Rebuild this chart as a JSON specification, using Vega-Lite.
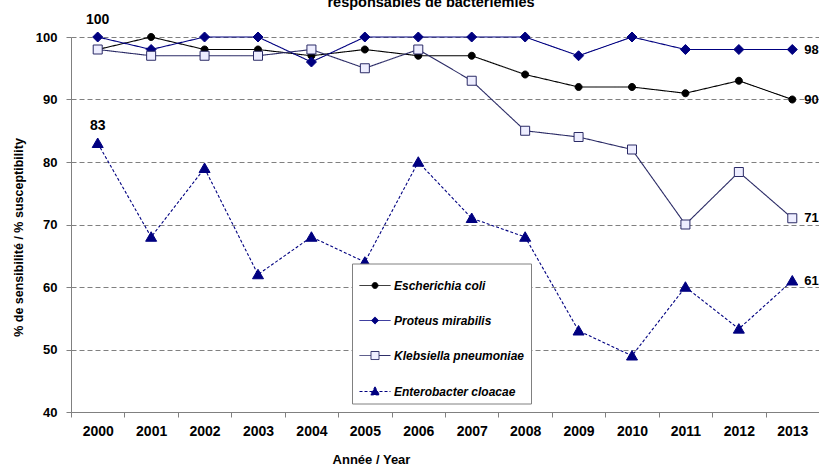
{
  "$schema": "https://vega.github.io/schema/vega-lite/v6.json",
  "width": 748,
  "height": 375,
  "autosize": "none",
  "padding": {"left": 71, "top": 37, "right": 0, "bottom": 53},
  "background": "white",
  "config": {
    "font": "Liberation Sans",
    "view": {"stroke": null}
  },
  "title": {
    "text": "responsables de bactériémies",
    "fontSize": 14.5,
    "fontWeight": "bold",
    "color": "black",
    "anchor": "middle",
    "frame": "group",
    "baseline": "alphabetic",
    "offset": -8,
    "dx": -14
  },
  "data": {
    "values": [
      {"year": 2000, "species": "Escherichia coli", "pct": 98},
      {"year": 2001, "species": "Escherichia coli", "pct": 100},
      {"year": 2002, "species": "Escherichia coli", "pct": 98},
      {"year": 2003, "species": "Escherichia coli", "pct": 98},
      {"year": 2004, "species": "Escherichia coli", "pct": 97},
      {"year": 2005, "species": "Escherichia coli", "pct": 98},
      {"year": 2006, "species": "Escherichia coli", "pct": 97},
      {"year": 2007, "species": "Escherichia coli", "pct": 97},
      {"year": 2008, "species": "Escherichia coli", "pct": 94},
      {"year": 2009, "species": "Escherichia coli", "pct": 92},
      {"year": 2010, "species": "Escherichia coli", "pct": 92},
      {"year": 2011, "species": "Escherichia coli", "pct": 91},
      {"year": 2012, "species": "Escherichia coli", "pct": 93},
      {"year": 2013, "species": "Escherichia coli", "pct": 90},
      {"year": 2000, "species": "Proteus mirabilis", "pct": 100},
      {"year": 2001, "species": "Proteus mirabilis", "pct": 98},
      {"year": 2002, "species": "Proteus mirabilis", "pct": 100},
      {"year": 2003, "species": "Proteus mirabilis", "pct": 100},
      {"year": 2004, "species": "Proteus mirabilis", "pct": 96},
      {"year": 2005, "species": "Proteus mirabilis", "pct": 100},
      {"year": 2006, "species": "Proteus mirabilis", "pct": 100},
      {"year": 2007, "species": "Proteus mirabilis", "pct": 100},
      {"year": 2008, "species": "Proteus mirabilis", "pct": 100},
      {"year": 2009, "species": "Proteus mirabilis", "pct": 97},
      {"year": 2010, "species": "Proteus mirabilis", "pct": 100},
      {"year": 2011, "species": "Proteus mirabilis", "pct": 98},
      {"year": 2012, "species": "Proteus mirabilis", "pct": 98},
      {"year": 2013, "species": "Proteus mirabilis", "pct": 98},
      {"year": 2000, "species": "Klebsiella pneumoniae", "pct": 98},
      {"year": 2001, "species": "Klebsiella pneumoniae", "pct": 97},
      {"year": 2002, "species": "Klebsiella pneumoniae", "pct": 97},
      {"year": 2003, "species": "Klebsiella pneumoniae", "pct": 97},
      {"year": 2004, "species": "Klebsiella pneumoniae", "pct": 98},
      {"year": 2005, "species": "Klebsiella pneumoniae", "pct": 95},
      {"year": 2006, "species": "Klebsiella pneumoniae", "pct": 98},
      {"year": 2007, "species": "Klebsiella pneumoniae", "pct": 93},
      {"year": 2008, "species": "Klebsiella pneumoniae", "pct": 85},
      {"year": 2009, "species": "Klebsiella pneumoniae", "pct": 84},
      {"year": 2010, "species": "Klebsiella pneumoniae", "pct": 82},
      {"year": 2011, "species": "Klebsiella pneumoniae", "pct": 70},
      {"year": 2012, "species": "Klebsiella pneumoniae", "pct": 78.4},
      {"year": 2013, "species": "Klebsiella pneumoniae", "pct": 71},
      {"year": 2000, "species": "Enterobacter cloacae", "pct": 83},
      {"year": 2001, "species": "Enterobacter cloacae", "pct": 68},
      {"year": 2002, "species": "Enterobacter cloacae", "pct": 79},
      {"year": 2003, "species": "Enterobacter cloacae", "pct": 62},
      {"year": 2004, "species": "Enterobacter cloacae", "pct": 68},
      {"year": 2005, "species": "Enterobacter cloacae", "pct": 64},
      {"year": 2006, "species": "Enterobacter cloacae", "pct": 80},
      {"year": 2007, "species": "Enterobacter cloacae", "pct": 71},
      {"year": 2008, "species": "Enterobacter cloacae", "pct": 68},
      {"year": 2009, "species": "Enterobacter cloacae", "pct": 53},
      {"year": 2010, "species": "Enterobacter cloacae", "pct": 49},
      {"year": 2011, "species": "Enterobacter cloacae", "pct": 60},
      {"year": 2012, "species": "Enterobacter cloacae", "pct": 53.3},
      {"year": 2013, "species": "Enterobacter cloacae", "pct": 61}
    ]
  },
  "encoding": {
    "x": {
      "field": "year",
      "type": "ordinal",
      "scale": {"type": "band", "paddingInner": 0, "paddingOuter": 0},
      "axis": {
        "title": "Année / Year",
        "labelAngle": 0,
        "tickBand": "extent",
        "grid": false,
        "domainColor": "#808080",
        "tickColor": "#808080",
        "tickSize": 5,
        "labelFontSize": 14,
        "labelFontWeight": "bold",
        "labelColor": "black",
        "labelPadding": 7,
        "titleFontSize": 13,
        "titleFontWeight": "bold",
        "titleColor": "black",
        "titleX": 300,
        "titleY": 51,
        "titleAlign": "center",
        "titleBaseline": "alphabetic"
      }
    },
    "y": {
      "field": "pct",
      "type": "quantitative",
      "scale": {"domain": [40, 100], "nice": false, "zero": false},
      "axis": {
        "values": [40, 50, 60, 70, 80, 90, 100],
        "title": "% de sensibilité / % susceptibility",
        "grid": true,
        "gridDash": [5, 3],
        "gridColor": "#808080",
        "gridWidth": 1,
        "domainColor": "#808080",
        "tickColor": "#808080",
        "tickSize": 5,
        "labelFontSize": 13,
        "labelFontWeight": "bold",
        "labelColor": "black",
        "labelPadding": 9,
        "titleFontSize": 12.5,
        "titleFontWeight": "bold",
        "titleColor": "black",
        "titleAngle": -90,
        "titleX": -53,
        "titleY": 200,
        "titleAlign": "center",
        "titleBaseline": "middle"
      }
    }
  },
  "resolve": {"scale": {"fill": "independent", "stroke": "independent", "shape": "independent", "strokeDash": "independent"}},
  "layer": [
    {
      "mark": {"type": "line", "strokeWidth": 1.1},
      "encoding": {
        "stroke": {
          "field": "species",
          "type": "nominal",
          "scale": {
            "domain": ["Escherichia coli", "Proteus mirabilis", "Klebsiella pneumoniae", "Enterobacter cloacae"],
            "range": ["#000000", "#000080", "#2b2b66", "#000080"]
          },
          "legend": null
        },
        "strokeDash": {
          "field": "species",
          "type": "nominal",
          "scale": {
            "domain": ["Escherichia coli", "Proteus mirabilis", "Klebsiella pneumoniae", "Enterobacter cloacae"],
            "range": [[1, 0], [1, 0], [1, 0], [3, 2]]
          },
          "legend": null
        }
      }
    },
    {
      "mark": {"type": "point", "filled": true, "size": 100, "strokeWidth": 1, "opacity": 1},
      "encoding": {
        "fill": {
          "field": "species",
          "type": "nominal",
          "scale": {
            "domain": ["Escherichia coli", "Proteus mirabilis", "Klebsiella pneumoniae", "Enterobacter cloacae"],
            "range": ["#000000", "#000080", "#eeeeff", "#000080"]
          },
          "legend": null
        },
        "stroke": {
          "field": "species",
          "type": "nominal",
          "scale": {
            "domain": ["Escherichia coli", "Proteus mirabilis", "Klebsiella pneumoniae", "Enterobacter cloacae"],
            "range": ["#000000", "#000080", "#2b2b66", "#000080"]
          },
          "legend": null
        },
        "shape": {
          "field": "species",
          "type": "nominal",
          "scale": {
            "domain": ["Escherichia coli", "Proteus mirabilis", "Klebsiella pneumoniae", "Enterobacter cloacae"],
            "range": [
              "M0.7,0A0.7,0.7,0,1,1,-0.7,0A0.7,0.7,0,1,1,0.7,0Z",
              "M0,-1L1,0L0,1L-1,0Z",
              "M-0.9,-0.9H0.9V0.9H-0.9Z",
              "M0,-1.05L1.1,0.85H-1.1Z"
            ]
          },
          "legend": null
        }
      }
    },
    {
      "transform": [{"filter": "false"}],
      "mark": {"type": "point", "filled": true, "strokeWidth": 1, "opacity": 1},
      "encoding": {
        "fill": {
          "field": "species",
          "type": "nominal",
          "scale": {
            "domain": ["Escherichia coli", "Proteus mirabilis", "Klebsiella pneumoniae", "Enterobacter cloacae"],
            "range": ["#000000", "#000080", "#eeeeff", "#000080"]
          },
          "legend": {
            "title": null, "orient": "none", "legendX": 281, "legendY": 226.5,
            "padding": 6, "rowPadding": 13, "symbolOffset": 1, "labelOffset": 3,
            "symbolSize": 961, "symbolStrokeWidth": 1,
            "labelFontSize": 12, "labelFontStyle": "italic", "labelFontWeight": "bold",
            "labelColor": "black", "labelLimit": 300,
            "strokeColor": "#808080", "fillColor": "white"
          }
        },
        "stroke": {
          "field": "species",
          "type": "nominal",
          "scale": {
            "domain": ["Escherichia coli", "Proteus mirabilis", "Klebsiella pneumoniae", "Enterobacter cloacae"],
            "range": ["#000000", "#000080", "#2b2b66", "#000080"]
          },
          "legend": {
            "title": null, "orient": "none", "legendX": 281, "legendY": 226.5,
            "padding": 6, "rowPadding": 13, "symbolOffset": 1, "labelOffset": 3,
            "symbolSize": 961, "symbolStrokeWidth": 1,
            "labelFontSize": 12, "labelFontStyle": "italic", "labelFontWeight": "bold",
            "labelColor": "black", "labelLimit": 300,
            "strokeColor": "#808080", "fillColor": "white"
          }
        },
        "strokeDash": {
          "field": "species",
          "type": "nominal",
          "scale": {
            "domain": ["Escherichia coli", "Proteus mirabilis", "Klebsiella pneumoniae", "Enterobacter cloacae"],
            "range": [[1, 0], [1, 0], [1, 0], [3, 2]]
          },
          "legend": {
            "title": null, "orient": "none", "legendX": 281, "legendY": 226.5,
            "padding": 6, "rowPadding": 13, "symbolOffset": 1, "labelOffset": 3,
            "symbolSize": 961, "symbolStrokeWidth": 1,
            "labelFontSize": 12, "labelFontStyle": "italic", "labelFontWeight": "bold",
            "labelColor": "black", "labelLimit": 300,
            "strokeColor": "#808080", "fillColor": "white"
          }
        },
        "shape": {
          "field": "species",
          "type": "nominal",
          "scale": {
            "domain": ["Escherichia coli", "Proteus mirabilis", "Klebsiella pneumoniae", "Enterobacter cloacae"],
            "range": [
              "M-1,0H1M0.19,0A0.19,0.19,0,1,1,-0.19,0A0.19,0.19,0,1,1,0.19,0Z",
              "M-1,0H1M0,-0.23L0.23,0L0,0.23L-0.23,0Z",
              "M-1,0H-0.26M0.26,0H1M-0.26,-0.26H0.26V0.26H-0.26Z",
              "M-1,0H1M0,-0.3L0.29,0.22H-0.29Z"
            ]
          },
          "legend": {
            "title": null, "orient": "none", "legendX": 281, "legendY": 226.5,
            "padding": 6, "rowPadding": 13, "symbolOffset": 1, "labelOffset": 3,
            "symbolSize": 961, "symbolStrokeWidth": 1,
            "labelFontSize": 12, "labelFontStyle": "italic", "labelFontWeight": "bold",
            "labelColor": "black", "labelLimit": 300,
            "strokeColor": "#808080", "fillColor": "white"
          }
        }
      }
    },
    {
      "transform": [
        {"filter": {"field": "year", "oneOf": [2000]}},
        {"filter": {"field": "species", "oneOf": ["Proteus mirabilis", "Enterobacter cloacae"]}}
      ],
      "mark": {"type": "text", "fontSize": 14, "fontWeight": "bold", "color": "black", "dy": -17, "baseline": "middle", "align": "center"},
      "encoding": {"text": {"field": "pct", "type": "quantitative"}}
    },
    {
      "transform": [
        {"filter": {"field": "year", "oneOf": [2013]}}
      ],
      "mark": {"type": "text", "fontSize": 13, "fontWeight": "bold", "color": "black", "dx": 12, "baseline": "middle", "align": "left"},
      "encoding": {"text": {"field": "pct", "type": "quantitative"}}
    }
  ]
}
